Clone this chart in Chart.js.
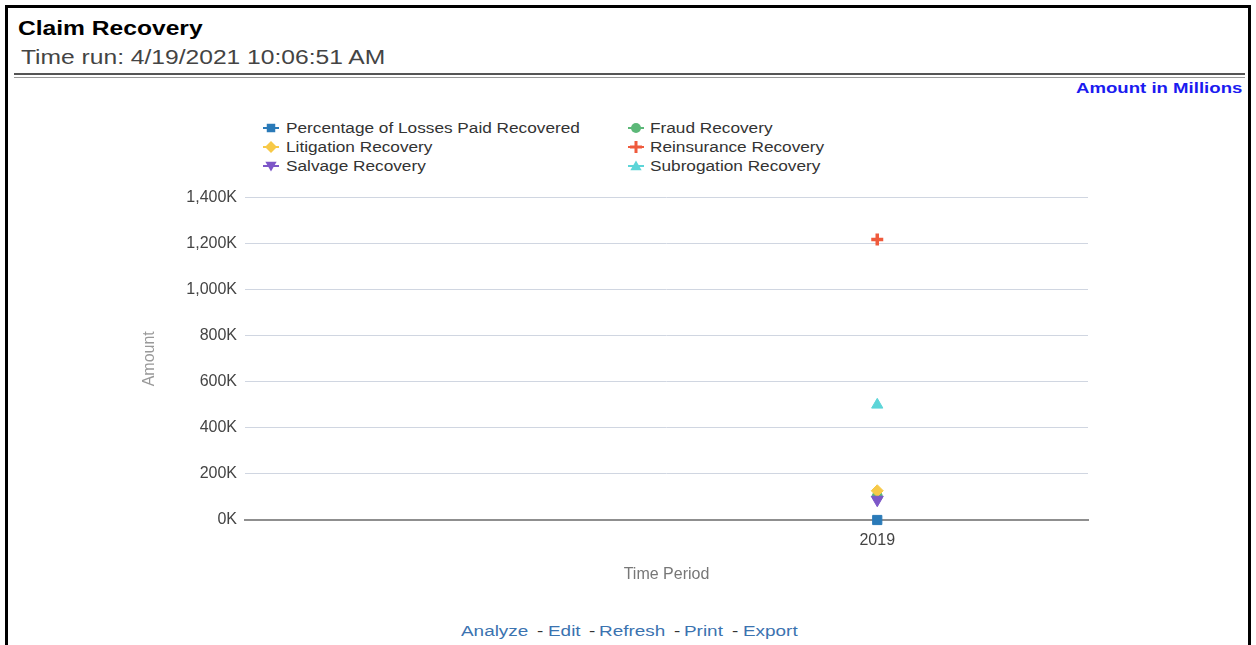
<!DOCTYPE html>
<html>
<head>
<meta charset="utf-8">
<title>Claim Recovery</title>
<script src="https://cdn.jsdelivr.net/npm/chart.js@4.4.1/dist/chart.umd.min.js"></script>
<style>
  html, body { margin: 0; padding: 0; background: #fff; overflow: hidden; }
  body { width: 1256px; height: 645px; position: relative; font-family: "Liberation Sans", Arial, sans-serif; }
  .frame { position: absolute; left: 5px; top: 5px; width: 1246px; height: 700px; box-sizing: border-box; border: 3px solid #000; }
  .t { position: absolute; white-space: nowrap; line-height: 1; transform-origin: 0 50%; transform: scaleX(1.23); }
  .rule { position: absolute; left: 14px; width: 1231px; }
  #chartBox { position: absolute; left: 0; top: 180px; width: 1256px; height: 420px; }
  .legend-item { position: absolute; height: 14px; }
  .legend-item canvas { position: absolute; top: 0; }
  .legend-item span { position: absolute; top: 0; font-size: 14px; line-height: 14px; color: #333; white-space: nowrap; transform-origin: 0 50%; transform: scaleX(1.23); }
  .link { color: #3b73b0; }
  .dash { color: #333; }
</style>
</head>
<body>
<div class="frame"></div>

<div class="t" style="left:18px; top:18px; font-size:20px; font-weight:bold; color:#000;">Claim Recovery</div>
<div class="t" style="left:21px; top:47px; font-size:20px; color:#444;">Time run: 4/19/2021 10:06:51 AM</div>
<div class="rule" style="top:73px; border-top:2px solid #555;"></div>
<div class="rule" style="top:77px; border-top:1px solid #999;"></div>
<div class="t" style="left:1076px; top:80px; font-size:15px; font-weight:bold; color:#1b1bf0; transform:scaleX(1.24);">Amount in Millions</div>

<div id="legend"></div>

<div id="chartBox"><canvas id="chart" width="1256" height="420"></canvas></div>

<div class="t link" style="left:461px; top:623px; font-size:15.5px; transform:scaleX(1.22);">Analyze</div>
<div class="t dash" style="left:537px; top:623px; font-size:15.5px; transform:scaleX(1.22);">-</div>
<div class="t link" style="left:548px; top:623px; font-size:15.5px; transform:scaleX(1.22);">Edit</div>
<div class="t dash" style="left:589px; top:623px; font-size:15.5px; transform:scaleX(1.22);">-</div>
<div class="t link" style="left:599px; top:623px; font-size:15.5px; transform:scaleX(1.22);">Refresh</div>
<div class="t dash" style="left:674px; top:623px; font-size:15.5px; transform:scaleX(1.22);">-</div>
<div class="t link" style="left:684px; top:623px; font-size:15.5px; transform:scaleX(1.22);">Print</div>
<div class="t dash" style="left:732px; top:623px; font-size:15.5px; transform:scaleX(1.22);">-</div>
<div class="t link" style="left:743px; top:623px; font-size:15.5px; transform:scaleX(1.22);">Export</div>

<script>
// Time periods on the category axis (the first slot carries no data)
const categories = ['', '2019'];

// Recovery amounts per time period
const pctLossesPaidRecovered = [null, 0.4];
const fraudRecovery = [null, 103000];
const litigationRecovery = [null, 127000];
const reinsuranceRecovery = [null, 1218000];
const salvageRecovery = [null, 88000];
const subrogationRecovery = [null, 500000];

// Value axis ticks
const yTickValues = [0, 200000, 400000, 600000, 800000, 1000000, 1200000, 1400000];
const yTickLabels = ['0K', '200K', '400K', '600K', '800K', '1,000K', '1,200K', '1,400K'];

const seriesNames = [
  'Percentage of Losses Paid Recovered',
  'Fraud Recovery',
  'Litigation Recovery',
  'Reinsurance Recovery',
  'Salvage Recovery',
  'Subrogation Recovery'
];
const seriesValues = [
  pctLossesPaidRecovered, fraudRecovery, litigationRecovery,
  reinsuranceRecovery, salvageRecovery, subrogationRecovery
];
const seriesColors = ['#2a7ab8', '#5cb878', '#f7c948', '#ef5a3c', '#7d57c8', '#5dd5d8'];
const seriesStyles = ['rect', 'circle', 'rectRot', 'cross', 'triangle', 'triangle'];
const seriesRotation = [0, 0, 0, 0, 180, 0];
const seriesRadius = [6.5, 5, 6, 6, 7, 6.5];

// Later series are painted over earlier ones
const datasets = seriesNames.map((name, i) => ({
  label: name,
  data: seriesValues[i],
  order: seriesNames.length - i,
  showLine: false,
  clip: false,
  pointStyle: seriesStyles[i],
  pointRotation: seriesRotation[i],
  pointRadius: seriesRadius[i],
  pointHoverRadius: seriesRadius[i],
  pointBackgroundColor: seriesColors[i],
  pointBorderColor: seriesColors[i],
  pointBorderWidth: seriesStyles[i] === 'cross' ? 3.5 : 1,
  borderColor: seriesColors[i],
  backgroundColor: seriesColors[i]
}));

const tickFont = { family: '"Liberation Sans", Arial, sans-serif', size: 16 };

const chart = new Chart(document.getElementById('chart'), {
  type: 'line',
  data: { labels: categories, datasets },
  options: {
    responsive: false,
    animation: false,
    devicePixelRatio: 1,
    layout: { padding: { top: 15, right: 168, left: 140, bottom: 0 } },
    plugins: { legend: { display: false }, tooltip: { enabled: false } },
    scales: {
      x: {
        type: 'category',
        offset: true,
        grid: { display: false, drawTicks: false },
        border: { display: true, color: '#8f8f8f', width: 2 },
        ticks: { font: tickFont, color: '#444', padding: 11 },
        title: { display: true, text: 'Time Period', color: '#777', font: tickFont, padding: { top: 0, bottom: 16 } },
        afterFit(scale) { scale.height = 80; }
      },
      y: {
        min: 0,
        max: 1400000,
        afterBuildTicks(scale) { scale.ticks = yTickValues.map(v => ({ value: v })); },
        ticks: {
          font: tickFont,
          color: '#444',
          padding: 8,
          callback(value) {
            const i = yTickValues.indexOf(value);
            return i >= 0 ? yTickLabels[i] : '';
          }
        },
        grid: { color: '#d0d6e1', lineWidth: 1, drawTicks: false },
        border: { display: false },
        title: { display: true, text: 'Amount', color: '#999', font: tickFont, padding: { top: 0, bottom: 0 } },
        afterFit(scale) { scale.width = 105; }
      }
    }
  }
});

// Legend in two columns, built from the chart's datasets
function drawMarker(ctx, style, cx, cy, r, rot, color) {
  ctx.save();
  ctx.fillStyle = color;
  ctx.strokeStyle = color;
  ctx.translate(cx, cy);
  ctx.rotate(rot * Math.PI / 180);
  ctx.beginPath();
  if (style === 'rect') {
    const s = r * Math.SQRT1_2;
    ctx.rect(-s, -s, 2 * s, 2 * s);
    ctx.fill();
  } else if (style === 'circle') {
    ctx.arc(0, 0, r, 0, Math.PI * 2);
    ctx.fill();
  } else if (style === 'rectRot') {
    ctx.moveTo(0, -r); ctx.lineTo(r, 0); ctx.lineTo(0, r); ctx.lineTo(-r, 0);
    ctx.closePath();
    ctx.fill();
  } else if (style === 'cross') {
    ctx.lineWidth = 3;
    ctx.moveTo(0, -r); ctx.lineTo(0, r);
    ctx.moveTo(-r, 0); ctx.lineTo(r, 0);
    ctx.stroke();
  } else if (style === 'triangle') {
    ctx.moveTo(0, -r);
    ctx.lineTo(r * Math.sin(Math.PI / 3), r * 0.5);
    ctx.lineTo(-r * Math.sin(Math.PI / 3), r * 0.5);
    ctx.closePath();
    ctx.fill();
  }
  ctx.restore();
}

const legendEl = document.getElementById('legend');
const colX = [{ marker: 271, text: 286 }, { marker: 636, text: 650 }];
const rowY = [128, 147, 166];
chart.data.datasets.forEach((ds, i) => {
  const col = colX[i % 2];
  const row = rowY[Math.floor(i / 2)];
  const item = document.createElement('div');
  item.className = 'legend-item';
  item.style.left = '0px';
  item.style.top = (row - 7) + 'px';

  const c = document.createElement('canvas');
  c.width = 18; c.height = 14;
  c.style.left = (col.marker - 9) + 'px';
  const ctx = c.getContext('2d');
  ctx.fillStyle = ds.borderColor;
  ctx.fillRect(1, 6, 16, 2);
  const r = ds.pointStyle === 'circle' ? 5 : (ds.pointStyle === 'triangle' ? 6.5 : 6);
  drawMarker(ctx, ds.pointStyle, 9, ds.pointStyle === 'triangle' ? (ds.pointRotation ? 6 : 8) : 7, r, ds.pointRotation, ds.borderColor);
  item.appendChild(c);

  const s = document.createElement('span');
  s.textContent = ds.label;
  s.style.left = col.text + 'px';
  item.appendChild(s);
  legendEl.appendChild(item);
});
</script>
</body>
</html>
